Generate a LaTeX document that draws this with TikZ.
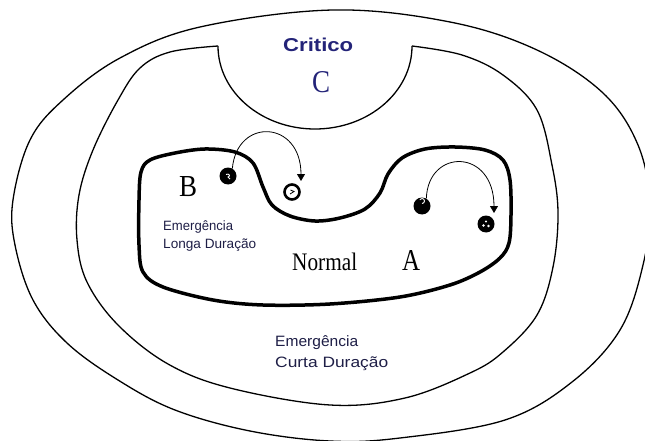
\documentclass[tikz,border=0pt]{standalone}
\usepackage{fontspec}
\setmainfont{Liberation Serif}
\newfontfamily\arialf{Liberation Sans}
\usetikzlibrary{arrows.meta}
\definecolor{critblue}{RGB}{35,35,120}
\definecolor{txtdark}{RGB}{30,30,70}
\newcommand{\hfit}[2]{\resizebox{#1}{\height}{#2}}
\begin{document}
\begin{tikzpicture}[x=1pt,y=-1pt,
  ring/.style={line width=1.3pt},
  blob/.style={line width=3.5pt, line join=round},
  lbl/.style={inner sep=0pt, anchor=base west},
  ball/.style={circle, fill=black, minimum size=17pt, inner sep=0pt},
  hollowball/.style={circle, draw=black, line width=2.6pt, fill=white, minimum size=15pt, inner sep=0pt},
  move/.style={line width=0.8pt, -{Triangle[length=7pt,width=8pt]}},
  whitemark/.style={white, line width=0.9pt}
]
\useasboundingbox (0,0) rectangle (645,441);

% outer boundary
\draw[ring] plot[smooth cycle, tension=0.6] coordinates {
  (333,10) (450,22) (537,50) (603,93) (638,145) (650,205) (643,265)
  (620,330) (572,382) (505,420) (400,438) (330,441) (250,431) (175,410)
  (118,380) (67,343) (33,300) (15,245) (13,200) (30,140) (63,100) (120,58) (200,27)};

% inner ring (Emergencia curta duracao) with critical notch
\draw[ring] plot[smooth, tension=0.6] coordinates {
  (218,46) (170,52) (140,68) (118,100) (93,150) (79,195) (77,240) (87,282)
  (118,325) (168,364) (230,388) (330,405) (405,398) (470,373) (503,352)
  (537,315) (553,267) (558,213) (552,165) (537,110) (503,75) (462,55) (412,46)};
\draw[ring] (218,46) arc[start angle=180, end angle=0, x radius=97, y radius=83];

% normal region
\draw[blob] plot[smooth cycle, tension=0.55] coordinates {
  (150,160) (175,153) (205,149) (235,152) (253,163) (263,187) (272,205)
  (290,216) (315,221) (340,218) (365,209) (380,193) (388,174) (402,158)
  (425,149) (455,147) (485,150) (503,160) (510,180) (511,215) (509,243)
  (500,258) (480,272) (450,285) (400,297) (330,304) (263,305) (213,300)
  (163,287) (143,272) (139,245) (139,200) (141,172)};

% balls
\node[ball] (b1) at (228,176) {};
\node[hollowball] (b2) at (292,192) {};
\node[ball] (b3) at (422,206) {};
\node[ball] (b4) at (486,224) {};
\draw[whitemark] ([shift={(-2,-1.5)}]b1.center) .. controls ([shift={(1,-3)}]b1.center) and ([shift={(3,0)}]b1.center) .. ([shift={(0,1)}]b1.center) -- ([shift={(2,3)}]b1.center);
\draw[whitemark] ([shift={(0,-2.5)}]b3.center) arc[start angle=90, end angle=-150, radius=2.5];
\fill[white] ([shift={(-2.5,1.5)}]b4.center) circle (1.4);
\fill[white] ([shift={(2.5,2)}]b4.center) circle (1.4);
\fill[white] ([shift={(0,-2.5)}]b4.center) circle (1.2);
\draw[line width=0.8pt] ([shift={(-2,2)}]b2.center) -- ([shift={(2,-0.5)}]b2.center) -- ([shift={(-1.5,-2)}]b2.center);

% transitions
\coordinate (tB) at (301,181);
\coordinate (tA) at (494,213);
\draw[move] (b1.60) .. controls (237,117) and (301,120) .. (tB);
\draw[move] (b3.60) .. controls (428,148) and (494,148) .. (tA);

% labels
\node[lbl, text=critblue] (crit) at (283,52) {\resizebox{70pt}{13.5pt}{\arialf\bfseries Critico}};
\node[lbl, text=critblue] (cC) at (312,93) {\resizebox{18pt}{21pt}{C}};
\node[lbl] (lB) at (179,196) {\resizebox{18pt}{20pt}{B}};
\node[lbl] (lA) at (402,270) {\resizebox{18pt}{20pt}{A}};
\node[lbl] (lN) at (292,270) {\resizebox{65pt}{17.5pt}{Normal}};
\node[lbl, text=txtdark] (lon1) at (163,230) {\hfit{70pt}{\arialf\fontsize{13.5}{16}\selectfont Emergência}};
\node[lbl, text=txtdark] (lon2) at (163,248) {\hfit{93pt}{\arialf\fontsize{13.5}{16}\selectfont Longa Duração}};
\node[lbl, text=txtdark] (cur1) at (275,346) {\hfit{83pt}{\arialf\fontsize{15}{18}\selectfont Emergência}};
\node[lbl, text=txtdark] (cur2) at (275,367) {\hfit{113pt}{\arialf\fontsize{15}{18}\selectfont Curta Duração}};
\end{tikzpicture}
\end{document}
